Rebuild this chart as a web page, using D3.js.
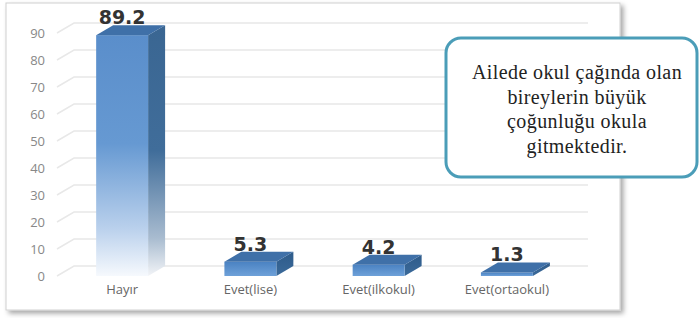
<!DOCTYPE html>
<html lang="tr">
<head>
<meta charset="UTF-8">
<title>Okul çağındaki bireyler</title>
<script src="https://d3js.org/d3.v7.min.js"></script>
<style>
    body { margin: 0; background: #fff; }
    .tick-label { font-family: 'Open Sans', sans-serif; font-size: 13px; fill: #888; }
    .cat-label { font-family: 'Open Sans', sans-serif; font-size: 13px; fill: #666; }
    .val-label { font-family: 'DejaVu Sans', sans-serif; font-weight: bold; font-size: 19px; fill: #333; }
    .note { font-family: 'Liberation Serif', serif; font-size: 20px; letter-spacing: 0.4px; fill: #222; }
</style>
</head>
<body>
<div id="chart"></div>
<script>
    // data
    const categories = ["Hayır", "Evet(lise)", "Evet(ilkokul)", "Evet(ortaokul)"];
    const values = [89.2, 5.3, 4.2, 1.3];
    const yTicks = [0, 10, 20, 30, 40, 50, 60, 70, 80, 90];
    const noteLines = ["Ailede okul çağında olan", "bireylerin büyük", "çoğunluğu okula", "gitmektedir."];

    const W = 700, H = 318;
    const depth = { dx: 17, dy: -10 };

    const svg = d3.select("#chart").append("svg")
        .attr("width", W).attr("height", H);

    const defs = svg.append("defs");

    const shadow = defs.append("filter").attr("id", "shadow")
        .attr("x", "-5%").attr("y", "-5%").attr("width", "115%").attr("height", "115%");
    shadow.append("feDropShadow")
        .attr("dx", 3).attr("dy", 3).attr("stdDeviation", 2.5)
        .attr("flood-color", "#000").attr("flood-opacity", 0.35);

    function grad(id, stops) {
        const g = defs.append("linearGradient").attr("id", id)
            .attr("x1", 0).attr("y1", 0).attr("x2", 0).attr("y2", 1);
        stops.forEach(s => g.append("stop").attr("offset", s[0]).attr("stop-color", s[1]));
    }
    // tall bar fades to white towards the floor
    grad("frontFade", [[0, "#5a8ecb"], [0.45, "#6699d2"], [0.8, "#b9d0ec"], [1, "#f6f9fd"]]);
    grad("sideFade", [[0, "#3a6692"], [0.5, "#406d9a"], [0.85, "#a9bcd0"], [1, "#f2f4f7"]]);
    // short bars stay solid
    grad("frontSolid", [[0, "#4a82c2"], [1, "#6ea1d9"]]);
    grad("sideSolid", [[0, "#2e5b8a"], [1, "#3b6a9a"]]);

    // panel
    svg.append("rect")
        .attr("x", 6).attr("y", 3).attr("width", 614).attr("height", 307)
        .attr("fill", "#fff").attr("stroke", "#d0d0d0").attr("stroke-width", 1)
        .attr("filter", "url(#shadow)");

    const x = d3.scaleBand().domain(categories)
        .range([58, 571]).paddingInner(0.595).paddingOuter(0.2975);
    const y = d3.scaleLinear().domain([0, 90]).range([276, 33]);

    // back wall gridlines with a short perspective leg
    const grid = svg.append("g");
    yTicks.forEach(t => {
        grid.append("path")
            .attr("d", `M57,${y(t)} L${57 + depth.dx},${y(t) + depth.dy} L${571 + depth.dx},${y(t) + depth.dy}`)
            .attr("fill", "none").attr("stroke", "#e8e8e8").attr("stroke-width", 1.5);
    });

    // y axis labels
    const yAxis = d3.axisLeft(y).tickValues(yTicks).tickSize(0).tickPadding(0);
    const ya = svg.append("g").attr("transform", "translate(45,0)").call(yAxis);
    ya.select(".domain").remove();
    ya.selectAll("text").attr("class", "tick-label").attr("fill", null).attr("font-size", null).attr("font-family", null);

    // bars
    const bars = svg.append("g").selectAll("g").data(values).join("g");
    bars.each(function (v, i) {
        const g = d3.select(this);
        const x0 = x(categories[i]), x1 = x0 + x.bandwidth();
        const yt = y(v), yb = y(0);
        const tall = v > 50;
        // side
        g.append("path")
            .attr("d", `M${x1},${yt} L${x1 + depth.dx},${yt + depth.dy} L${x1 + depth.dx},${yb + depth.dy} L${x1},${yb}Z`)
            .attr("fill", tall ? "url(#sideFade)" : "url(#sideSolid)");
        // front
        g.append("rect")
            .attr("x", x0).attr("y", yt).attr("width", x.bandwidth()).attr("height", yb - yt)
            .attr("fill", tall ? "url(#frontFade)" : "url(#frontSolid)");
        // top
        g.append("path")
            .attr("d", `M${x0},${yt} L${x0 + depth.dx},${yt + depth.dy} L${x1 + depth.dx},${yt + depth.dy} L${x1},${yt}Z`)
            .attr("fill", "#3f70a8");
        // value
        g.append("text").attr("class", "val-label")
            .attr("x", x0 + x.bandwidth() / 2)
            .attr("y", yt + depth.dy - 1)
            .attr("text-anchor", "middle")
            .text(v);
    });

    // category labels
    const xAxis = d3.axisBottom(x).tickSize(0).tickPadding(0);
    const xa = svg.append("g").attr("transform", "translate(0,285)").call(xAxis);
    xa.select(".domain").remove();
    xa.selectAll("text").attr("class", "cat-label").attr("fill", null).attr("font-size", null).attr("font-family", null);

    // callout box
    svg.append("rect")
        .attr("x", 446).attr("y", 38).attr("width", 251).attr("height", 139)
        .attr("rx", 15).attr("ry", 15)
        .attr("fill", "#fff").attr("stroke", "#4b9db8").attr("stroke-width", 3);

    svg.append("g").selectAll("text").data(noteLines).join("text")
        .attr("class", "note")
        .attr("x", 577)
        .attr("y", (d, i) => 79 + i * 24.5)
        .attr("text-anchor", "middle")
        .text(d => d);
</script>
</body>
</html>
